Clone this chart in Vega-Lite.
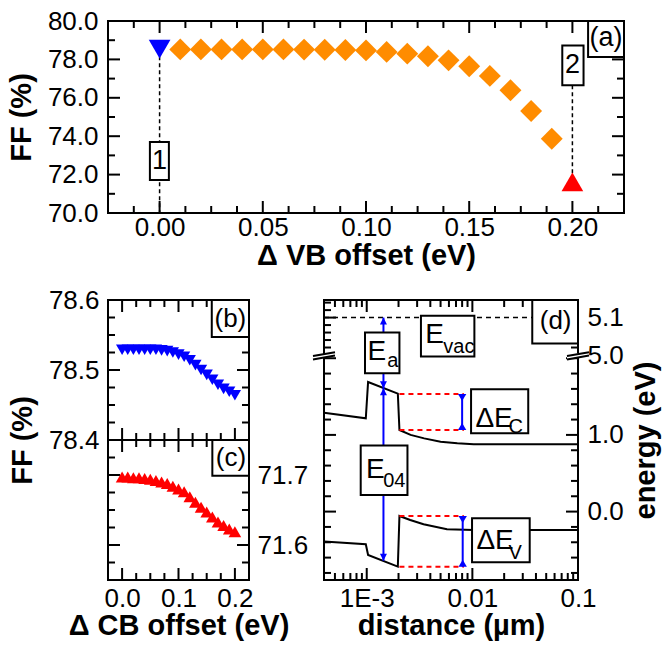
{
  "$schema": "https://vega.github.io/schema/vega-lite/v6.json",
  "background": "white",
  "padding": {"left": 6, "top": 7, "right": 0, "bottom": 0},
  "autosize": {"type": "pad"},
  "config": {
    "view": {"stroke": "black", "strokeWidth": 2},
    "axis": {"labelFont": "Liberation Sans", "labelFontSize": 26, "labelColor": "black", "titleFont": "Liberation Sans", "titleFontSize": 29, "titleFontWeight": "bold", "titleColor": "black", "ticks": false, "domain": false, "grid": false, "labelFlush": false, "labelOverlap": false},
    "text": {"font": "Liberation Sans", "color": "black"}
  },
  "datasets": {
    "vbOffset": [
      {"offset": 0.01, "ff": 78.52}, {"offset": 0.02, "ff": 78.52}, {"offset": 0.03, "ff": 78.52}, {"offset": 0.04, "ff": 78.52},
      {"offset": 0.05, "ff": 78.52}, {"offset": 0.06, "ff": 78.52}, {"offset": 0.07, "ff": 78.51}, {"offset": 0.08, "ff": 78.5},
      {"offset": 0.09, "ff": 78.49}, {"offset": 0.1, "ff": 78.47}, {"offset": 0.11, "ff": 78.39}, {"offset": 0.12, "ff": 78.3},
      {"offset": 0.13, "ff": 78.16}, {"offset": 0.14, "ff": 77.95}, {"offset": 0.15, "ff": 77.64}, {"offset": 0.16, "ff": 77.14},
      {"offset": 0.17, "ff": 76.39}, {"offset": 0.18, "ff": 75.31}, {"offset": 0.19, "ff": 73.87}
    ],
    "cbB": [
      {"offset": 0.0, "ff": 78.529}, {"offset": 0.01, "ff": 78.529}, {"offset": 0.02, "ff": 78.529}, {"offset": 0.03, "ff": 78.529},
      {"offset": 0.04, "ff": 78.529}, {"offset": 0.05, "ff": 78.529}, {"offset": 0.06, "ff": 78.529}, {"offset": 0.07, "ff": 78.528},
      {"offset": 0.08, "ff": 78.527}, {"offset": 0.09, "ff": 78.525}, {"offset": 0.1, "ff": 78.522}, {"offset": 0.11, "ff": 78.519},
      {"offset": 0.12, "ff": 78.514}, {"offset": 0.13, "ff": 78.507}, {"offset": 0.14, "ff": 78.5}, {"offset": 0.15, "ff": 78.493},
      {"offset": 0.16, "ff": 78.486}, {"offset": 0.17, "ff": 78.479}, {"offset": 0.18, "ff": 78.473}, {"offset": 0.19, "ff": 78.469},
      {"offset": 0.2, "ff": 78.464}
    ],
    "cbC": [
      {"offset": 0.0, "ff": 71.697}, {"offset": 0.01, "ff": 71.697}, {"offset": 0.02, "ff": 71.696}, {"offset": 0.03, "ff": 71.696},
      {"offset": 0.04, "ff": 71.695}, {"offset": 0.05, "ff": 71.694}, {"offset": 0.06, "ff": 71.692}, {"offset": 0.07, "ff": 71.69},
      {"offset": 0.08, "ff": 71.688}, {"offset": 0.09, "ff": 71.684}, {"offset": 0.1, "ff": 71.68}, {"offset": 0.11, "ff": 71.676},
      {"offset": 0.12, "ff": 71.669}, {"offset": 0.13, "ff": 71.661}, {"offset": 0.14, "ff": 71.654}, {"offset": 0.15, "ff": 71.647},
      {"offset": 0.16, "ff": 71.64}, {"offset": 0.17, "ff": 71.633}, {"offset": 0.18, "ff": 71.628}, {"offset": 0.19, "ff": 71.623},
      {"offset": 0.2, "ff": 71.619}
    ],
    "bands": [
      {"band": "CB", "distance": 0.000394, "energy": 1.29}, {"band": "CB", "distance": 0.00098, "energy": 1.216},
      {"band": "CB", "distance": 0.00103, "energy": 1.69}, {"band": "CB", "distance": 0.00197, "energy": 1.538},
      {"band": "CB", "distance": 0.00204, "energy": 1.064}, {"band": "CB", "distance": 0.0026, "energy": 1.0},
      {"band": "CB", "distance": 0.0035, "energy": 0.955}, {"band": "CB", "distance": 0.005, "energy": 0.912},
      {"band": "CB", "distance": 0.0072, "energy": 0.89}, {"band": "CB", "distance": 0.0103, "energy": 0.878},
      {"band": "CB", "distance": 0.1, "energy": 0.877},
      {"band": "VB", "distance": 0.000394, "energy": -0.391}, {"band": "VB", "distance": 0.00098, "energy": -0.426},
      {"band": "VB", "distance": 0.00103, "energy": -0.566}, {"band": "VB", "distance": 0.00197, "energy": -0.717},
      {"band": "VB", "distance": 0.00204, "energy": -0.057}, {"band": "VB", "distance": 0.00258, "energy": -0.109},
      {"band": "VB", "distance": 0.00345, "energy": -0.166}, {"band": "VB", "distance": 0.00575, "energy": -0.231},
      {"band": "VB", "distance": 0.0103, "energy": -0.24}, {"band": "VB", "distance": 0.1, "energy": -0.24}
    ],
    "ticksAx": [
      {"v": 0, "kind": "major"}, {"v": 0.05, "kind": "major"}, {"v": 0.1, "kind": "major"}, {"v": 0.15, "kind": "major"}, {"v": 0.2, "kind": "major"},
      {"v": -0.0125, "kind": "minor"}, {"v": 0.0125, "kind": "minor"}, {"v": 0.025, "kind": "minor"}, {"v": 0.0375, "kind": "minor"},
      {"v": 0.0625, "kind": "minor"}, {"v": 0.075, "kind": "minor"}, {"v": 0.0875, "kind": "minor"}, {"v": 0.1125, "kind": "minor"},
      {"v": 0.125, "kind": "minor"}, {"v": 0.1375, "kind": "minor"}, {"v": 0.1625, "kind": "minor"}, {"v": 0.175, "kind": "minor"},
      {"v": 0.1875, "kind": "minor"}, {"v": 0.2125, "kind": "minor"}
    ],
    "ticksAy": [
      {"v": 72, "kind": "major"}, {"v": 74, "kind": "major"}, {"v": 76, "kind": "major"}, {"v": 78, "kind": "major"},
      {"v": 71, "kind": "minor"}, {"v": 73, "kind": "minor"}, {"v": 75, "kind": "minor"}, {"v": 77, "kind": "minor"}, {"v": 79, "kind": "minor"}
    ],
    "ticksBCx": [
      {"v": 0, "kind": "major"}, {"v": 0.1, "kind": "major"}, {"v": 0.2, "kind": "major"},
      {"v": 0.025, "kind": "minor"}, {"v": 0.05, "kind": "minor"}, {"v": 0.075, "kind": "minor"},
      {"v": 0.125, "kind": "minor"}, {"v": 0.15, "kind": "minor"}, {"v": 0.175, "kind": "minor"}
    ],
    "ticksBy": [
      {"v": 78.5, "kind": "major"},
      {"v": 78.425, "kind": "minor"}, {"v": 78.45, "kind": "minor"}, {"v": 78.475, "kind": "minor"},
      {"v": 78.525, "kind": "minor"}, {"v": 78.55, "kind": "minor"}, {"v": 78.575, "kind": "minor"}
    ],
    "ticksCy": [
      {"v": 71.6, "kind": "major"}, {"v": 71.7, "kind": "major"},
      {"v": 71.575, "kind": "minor"}, {"v": 71.625, "kind": "minor"}, {"v": 71.65, "kind": "minor"},
      {"v": 71.675, "kind": "minor"}, {"v": 71.725, "kind": "minor"}
    ],
    "ticksDx": [
      {"v": 0.001, "kind": "major"}, {"v": 0.01, "kind": "major"},
      {"v": 0.0005, "kind": "minor"}, {"v": 0.0006, "kind": "minor"}, {"v": 0.0007, "kind": "minor"}, {"v": 0.0008, "kind": "minor"}, {"v": 0.0009, "kind": "minor"},
      {"v": 0.002, "kind": "minor"}, {"v": 0.003, "kind": "minor"}, {"v": 0.004, "kind": "minor"}, {"v": 0.005, "kind": "minor"},
      {"v": 0.006, "kind": "minor"}, {"v": 0.007, "kind": "minor"}, {"v": 0.008, "kind": "minor"}, {"v": 0.009, "kind": "minor"},
      {"v": 0.02, "kind": "minor"}, {"v": 0.03, "kind": "minor"}, {"v": 0.04, "kind": "minor"}, {"v": 0.05, "kind": "minor"},
      {"v": 0.06, "kind": "minor"}, {"v": 0.07, "kind": "minor"}, {"v": 0.08, "kind": "minor"}, {"v": 0.09, "kind": "minor"}
    ],
    "ticksD1y": [
      {"v": 5.1, "kind": "major"},
      {"v": 5.02, "kind": "minor"}, {"v": 5.04, "kind": "minor"}, {"v": 5.06, "kind": "minor"}, {"v": 5.08, "kind": "minor"},
      {"v": 5.12, "kind": "minor"}, {"v": 5.14, "kind": "minor"}
    ],
    "ticksD2y": [
      {"v": 0, "kind": "major"}, {"v": 1, "kind": "major"}, {"v": 2, "kind": "major"},
      {"v": -0.8, "kind": "minor"}, {"v": -0.6, "kind": "minor"}, {"v": -0.4, "kind": "minor"}, {"v": -0.2, "kind": "minor"},
      {"v": 0.2, "kind": "minor"}, {"v": 0.4, "kind": "minor"}, {"v": 0.6, "kind": "minor"}, {"v": 0.8, "kind": "minor"},
      {"v": 1.2, "kind": "minor"}, {"v": 1.4, "kind": "minor"}, {"v": 1.6, "kind": "minor"}, {"v": 1.8, "kind": "minor"}
    ]
  },
  "vconcat": [
    {
      "width": 516, "height": 192,
      "encoding": {
        "x": {"type": "quantitative", "scale": {"domain": [-0.025, 0.225], "nice": false, "zero": false}},
        "y": {"type": "quantitative", "scale": {"domain": [70, 80], "nice": false, "zero": false}}
      },
      "layer": [
        {
          "data": {"name": "ticksAx"},
          "mark": {"type": "point", "shape": "M0,0L0,-1", "filled": false, "stroke": "black", "strokeWidth": 2, "opacity": 1},
          "encoding": {"x": {"field": "v", "type": "quantitative", "axis": null}, "y": {"datum": 70, "type": "quantitative", "axis": null},
            "size": {"field": "kind", "type": "ordinal", "scale": {"domain": ["major", "minor"], "range": [576, 196]}, "legend": null}}
        },
        {
          "data": {"name": "ticksAx"},
          "mark": {"type": "point", "shape": "M0,0L0,1", "filled": false, "stroke": "black", "strokeWidth": 2, "opacity": 1},
          "encoding": {"x": {"field": "v", "type": "quantitative", "axis": null}, "y": {"datum": 80, "type": "quantitative", "axis": null},
            "size": {"field": "kind", "type": "ordinal", "scale": {"domain": ["major", "minor"], "range": [576, 196]}, "legend": null}}
        },
        {
          "data": {"name": "ticksAy"},
          "mark": {"type": "point", "shape": "M0,0L1,0", "filled": false, "stroke": "black", "strokeWidth": 2, "opacity": 1},
          "encoding": {"x": {"datum": -0.025, "type": "quantitative", "axis": null}, "y": {"field": "v", "type": "quantitative", "axis": null},
            "size": {"field": "kind", "type": "ordinal", "scale": {"domain": ["major", "minor"], "range": [576, 196]}, "legend": null}}
        },
        {
          "data": {"name": "ticksAy"},
          "mark": {"type": "point", "shape": "M0,0L-1,0", "filled": false, "stroke": "black", "strokeWidth": 2, "opacity": 1},
          "encoding": {"x": {"datum": 0.225, "type": "quantitative", "axis": null}, "y": {"field": "v", "type": "quantitative", "axis": null},
            "size": {"field": "kind", "type": "ordinal", "scale": {"domain": ["major", "minor"], "range": [576, 196]}, "legend": null}}
        },
        {
          "data": {"values": [{"x": 0, "y": 78.53, "y2": 70}, {"x": 0.2, "y": 76.65, "y2": 71.62}]},
          "mark": {"type": "rule", "color": "black", "strokeWidth": 1.5, "strokeDash": [4, 3]},
          "encoding": {
            "x": {"field": "x", "type": "quantitative",
              "axis": {"orient": "bottom", "title": "Δ VB offset (eV)", "values": [0, 0.05, 0.1, 0.15, 0.2], "format": ".2f", "labelPadding": 1, "titlePadding": 1}},
            "y": {"field": "y", "type": "quantitative",
              "axis": {"orient": "left", "title": "FF (%)", "values": [70, 72, 74, 76, 78, 80], "format": ".1f", "labelPadding": 10, "titlePadding": 11}},
            "y2": {"field": "y2"}
          }
        },
        {
          "data": {"name": "vbOffset"},
          "mark": {"type": "point", "shape": "diamond", "filled": true, "color": "#ff8c00", "size": 480, "opacity": 1},
          "encoding": {"x": {"field": "offset", "type": "quantitative", "axis": null}, "y": {"field": "ff", "type": "quantitative", "axis": null}}
        },
        {
          "data": {"values": [{"x": 0, "y": 78.53}]},
          "mark": {"type": "point", "shape": "triangle-down", "filled": true, "color": "#0000ff", "size": 470, "opacity": 1},
          "encoding": {"x": {"field": "x", "type": "quantitative", "axis": null}, "y": {"field": "y", "type": "quantitative", "axis": null}}
        },
        {
          "data": {"values": [{"x": 0.2, "y": 71.62}]},
          "mark": {"type": "point", "shape": "triangle-up", "filled": true, "color": "#ff0000", "size": 470, "opacity": 1},
          "encoding": {"x": {"field": "x", "type": "quantitative", "axis": null}, "y": {"field": "y", "type": "quantitative", "axis": null}}
        },
        {
          "data": {"values": [{"x": -0.0047, "x2": 0.0045, "y": 73.7, "y2": 71.72}, {"x": 0.1951, "x2": 0.2054, "y": 78.73, "y2": 76.65}, {"x": 0.2076, "x2": 0.225, "y": 80.0, "y2": 78.125}]},
          "mark": {"type": "rect", "fill": "white", "stroke": "black", "strokeWidth": 2},
          "encoding": {"x": {"field": "x", "type": "quantitative", "axis": null}, "x2": {"field": "x2"}, "y": {"field": "y", "type": "quantitative", "axis": null}, "y2": {"field": "y2"}}
        },
        {
          "data": {"values": [{"x": 0, "y": 72.71, "t": "1"}, {"x": 0.2, "y": 77.69, "t": "2"}, {"x": 0.2163, "y": 79.09, "t": "(a)"}]},
          "mark": {"type": "text", "fontSize": 27, "align": "center", "baseline": "middle"},
          "encoding": {"x": {"field": "x", "type": "quantitative", "axis": null}, "y": {"field": "y", "type": "quantitative", "axis": null}, "text": {"field": "t"}}
        }
      ],
      "resolve": {"axis": {"x": "independent", "y": "independent"}}
    },
    {
      "hconcat": [
        {
          "vconcat": [
            {
              "width": 141, "height": 140,
              "encoding": {
                "x": {"type": "quantitative", "scale": {"domain": [-0.025, 0.225], "nice": false, "zero": false}},
                "y": {"type": "quantitative", "scale": {"domain": [78.4, 78.6], "nice": false, "zero": false}}
              },
              "layer": [
                {
                  "data": {"name": "ticksBCx"},
                  "mark": {"type": "point", "shape": "M0,0L0,-1", "filled": false, "stroke": "black", "strokeWidth": 2, "opacity": 1},
                  "encoding": {"x": {"field": "v", "type": "quantitative", "axis": null}, "y": {"datum": 78.4, "type": "quantitative", "axis": null},
                    "size": {"field": "kind", "type": "ordinal", "scale": {"domain": ["major", "minor"], "range": [576, 196]}, "legend": null}}
                },
                {
                  "data": {"name": "ticksBCx"},
                  "mark": {"type": "point", "shape": "M0,0L0,1", "filled": false, "stroke": "black", "strokeWidth": 2, "opacity": 1},
                  "encoding": {"x": {"field": "v", "type": "quantitative", "axis": null}, "y": {"datum": 78.6, "type": "quantitative", "axis": null},
                    "size": {"field": "kind", "type": "ordinal", "scale": {"domain": ["major", "minor"], "range": [576, 196]}, "legend": null}}
                },
                {
                  "data": {"name": "ticksBy"},
                  "mark": {"type": "point", "shape": "M0,0L1,0", "filled": false, "stroke": "black", "strokeWidth": 2, "opacity": 1},
                  "encoding": {"x": {"datum": -0.025, "type": "quantitative", "axis": null}, "y": {"field": "v", "type": "quantitative", "axis": null},
                    "size": {"field": "kind", "type": "ordinal", "scale": {"domain": ["major", "minor"], "range": [576, 196]}, "legend": null}}
                },
                {
                  "data": {"name": "ticksBy"},
                  "mark": {"type": "point", "shape": "M0,0L-1,0", "filled": false, "stroke": "black", "strokeWidth": 2, "opacity": 1},
                  "encoding": {"x": {"datum": 0.225, "type": "quantitative", "axis": null}, "y": {"field": "v", "type": "quantitative", "axis": null},
                    "size": {"field": "kind", "type": "ordinal", "scale": {"domain": ["major", "minor"], "range": [576, 196]}, "legend": null}}
                },
                {
                  "data": {"name": "cbB"},
                  "mark": {"type": "point", "shape": "triangle-down", "filled": true, "color": "#0000ff", "size": 150, "opacity": 1},
                  "encoding": {
                    "x": {"field": "offset", "type": "quantitative", "axis": null},
                    "y": {"field": "ff", "type": "quantitative",
                      "axis": {"orient": "left", "title": "FF (%)", "titleY": 140, "values": [78.4, 78.5, 78.6], "format": ".1f", "labelPadding": 9, "titlePadding": 11}}
                  }
                },
                {
                  "data": {"values": [{"x": 0.159, "x2": 0.225, "y": 78.6, "y2": 78.547}]},
                  "mark": {"type": "rect", "fill": "white", "stroke": "black", "strokeWidth": 2},
                  "encoding": {"x": {"field": "x", "type": "quantitative", "axis": null}, "x2": {"field": "x2"}, "y": {"field": "y", "type": "quantitative", "axis": null}, "y2": {"field": "y2"}}
                },
                {
                  "data": {"values": [{"x": 0.192, "y": 78.573, "t": "(b)"}]},
                  "mark": {"type": "text", "fontSize": 26, "align": "center", "baseline": "middle"},
                  "encoding": {"x": {"field": "x", "type": "quantitative", "axis": null}, "y": {"field": "y", "type": "quantitative", "axis": null}, "text": {"field": "t"}}
                }
              ],
              "resolve": {"axis": {"x": "independent", "y": "independent"}}
            },
            {
              "width": 141, "height": 140,
              "encoding": {
                "x": {"type": "quantitative", "scale": {"domain": [-0.025, 0.225], "nice": false, "zero": false}},
                "y": {"type": "quantitative", "scale": {"domain": [71.55, 71.75], "nice": false, "zero": false}}
              },
              "layer": [
                {
                  "data": {"name": "ticksBCx"},
                  "mark": {"type": "point", "shape": "M0,0L0,-1", "filled": false, "stroke": "black", "strokeWidth": 2, "opacity": 1},
                  "encoding": {"x": {"field": "v", "type": "quantitative", "axis": null}, "y": {"datum": 71.55, "type": "quantitative", "axis": null},
                    "size": {"field": "kind", "type": "ordinal", "scale": {"domain": ["major", "minor"], "range": [576, 196]}, "legend": null}}
                },
                {
                  "data": {"name": "ticksBCx"},
                  "mark": {"type": "point", "shape": "M0,0L0,1", "filled": false, "stroke": "black", "strokeWidth": 2, "opacity": 1},
                  "encoding": {"x": {"field": "v", "type": "quantitative", "axis": null}, "y": {"datum": 71.75, "type": "quantitative", "axis": null},
                    "size": {"field": "kind", "type": "ordinal", "scale": {"domain": ["major", "minor"], "range": [576, 196]}, "legend": null}}
                },
                {
                  "data": {"name": "ticksCy"},
                  "mark": {"type": "point", "shape": "M0,0L1,0", "filled": false, "stroke": "black", "strokeWidth": 2, "opacity": 1},
                  "encoding": {"x": {"datum": -0.025, "type": "quantitative", "axis": null}, "y": {"field": "v", "type": "quantitative", "axis": null},
                    "size": {"field": "kind", "type": "ordinal", "scale": {"domain": ["major", "minor"], "range": [576, 196]}, "legend": null}}
                },
                {
                  "data": {"name": "ticksCy"},
                  "mark": {"type": "point", "shape": "M0,0L-1,0", "filled": false, "stroke": "black", "strokeWidth": 2, "opacity": 1},
                  "encoding": {"x": {"datum": 0.225, "type": "quantitative", "axis": null}, "y": {"field": "v", "type": "quantitative", "axis": null},
                    "size": {"field": "kind", "type": "ordinal", "scale": {"domain": ["major", "minor"], "range": [576, 196]}, "legend": null}}
                },
                {
                  "data": {"name": "cbC"},
                  "mark": {"type": "point", "shape": "triangle-up", "filled": true, "color": "#ff0000", "size": 160, "opacity": 1},
                  "encoding": {
                    "x": {"field": "offset", "type": "quantitative",
                      "axis": {"orient": "bottom", "title": "Δ CB offset (eV)", "values": [0, 0.1, 0.2], "format": ".1f", "labelPadding": 5, "titlePadding": 0}},
                    "y": {"field": "ff", "type": "quantitative",
                      "axis": {"orient": "right", "title": null, "values": [71.6, 71.7], "format": ".1f", "labelPadding": 8}}
                  }
                },
                {
                  "data": {"values": [{"x": 0.16, "x2": 0.225, "y": 71.75, "y2": 71.699}]},
                  "mark": {"type": "rect", "fill": "white", "stroke": "black", "strokeWidth": 2},
                  "encoding": {"x": {"field": "x", "type": "quantitative", "axis": null}, "x2": {"field": "x2"}, "y": {"field": "y", "type": "quantitative", "axis": null}, "y2": {"field": "y2"}}
                },
                {
                  "data": {"values": [{"x": 0.193, "y": 71.724, "t": "(c)"}]},
                  "mark": {"type": "text", "fontSize": 26, "align": "center", "baseline": "middle"},
                  "encoding": {"x": {"field": "x", "type": "quantitative", "axis": null}, "y": {"field": "y", "type": "quantitative", "axis": null}, "text": {"field": "t"}}
                }
              ],
              "resolve": {"axis": {"x": "independent", "y": "independent"}}
            }
          ],
          "spacing": 0,
          "bounds": "flush"
        },
        {
          "vconcat": [
            {
              "width": 254, "height": 55,
              "encoding": {
                "x": {"type": "quantitative", "scale": {"type": "log", "domain": [0.000394, 0.1], "nice": false}},
                "y": {"type": "quantitative", "scale": {"domain": [5.0, 5.147], "nice": false, "zero": false}}
              },
              "layer": [
                {
                  "data": {"name": "ticksDx"},
                  "mark": {"type": "point", "shape": "M0,0L0,1", "filled": false, "stroke": "black", "strokeWidth": 2, "opacity": 1},
                  "encoding": {"x": {"field": "v", "type": "quantitative", "axis": null}, "y": {"datum": 5.147, "type": "quantitative", "axis": null},
                    "size": {"field": "kind", "type": "ordinal", "scale": {"domain": ["major", "minor"], "range": [576, 196]}, "legend": null}}
                },
                {
                  "data": {"name": "ticksD1y"},
                  "mark": {"type": "point", "shape": "M0,0L1,0", "filled": false, "stroke": "black", "strokeWidth": 2, "opacity": 1},
                  "encoding": {"x": {"datum": 0.000394, "type": "quantitative", "axis": null}, "y": {"field": "v", "type": "quantitative", "axis": null},
                    "size": {"field": "kind", "type": "ordinal", "scale": {"domain": ["major", "minor"], "range": [576, 196]}, "legend": null}}
                },
                {
                  "data": {"name": "ticksD1y"},
                  "mark": {"type": "point", "shape": "M0,0L-1,0", "filled": false, "stroke": "black", "strokeWidth": 2, "opacity": 1},
                  "encoding": {"x": {"datum": 0.1, "type": "quantitative", "axis": null}, "y": {"field": "v", "type": "quantitative", "axis": null},
                    "size": {"field": "kind", "type": "ordinal", "scale": {"domain": ["major", "minor"], "range": [576, 196]}, "legend": null}}
                },
                {
                  "data": {"values": [{"x": 0.000394, "x2": 0.0369, "y": 5.1}]},
                  "mark": {"type": "rule", "color": "black", "strokeWidth": 1.5, "strokeDash": [5, 4]},
                  "encoding": {"x": {"field": "x", "type": "quantitative", "axis": null}, "x2": {"field": "x2"}, "y": {"field": "y", "type": "quantitative", "axis": null}}
                },
                {
                  "data": {"values": [{"x": 0.0369, "x2": 0.1, "y": 5.147, "y2": 5.031}]},
                  "mark": {"type": "rect", "fill": "white", "stroke": "black", "strokeWidth": 2},
                  "encoding": {"x": {"field": "x", "type": "quantitative", "axis": null}, "x2": {"field": "x2"}, "y": {"field": "y", "type": "quantitative", "axis": null}, "y2": {"field": "y2"}}
                },
                {
                  "data": {"values": [{"x": 0.00144, "y": 5.1, "y2": 5.0}]},
                  "mark": {"type": "rule", "color": "#0000ff", "strokeWidth": 2},
                  "encoding": {
                    "x": {"field": "x", "type": "quantitative", "axis": null},
                    "y": {"field": "y", "type": "quantitative",
                      "axis": {"orient": "right", "title": null, "values": [5.0, 5.1], "format": ".1f", "labelPadding": 9}},
                    "y2": {"field": "y2"}
                  }
                },
                {
                  "data": {"values": [{"x": 0.00144, "y": 5.1}]},
                  "mark": {"type": "point", "shape": "M0,0L-0.5,1L0.5,1Z", "filled": true, "color": "#0000ff", "size": 196, "opacity": 1},
                  "encoding": {"x": {"field": "x", "type": "quantitative", "axis": null}, "y": {"field": "y", "type": "quantitative", "axis": null}}
                },
                {
                  "data": {"values": [{"x": 0.0614, "y": 5.09, "t": "(d)"}]},
                  "mark": {"type": "text", "fontSize": 26, "align": "center", "baseline": "middle"},
                  "encoding": {"x": {"field": "x", "type": "quantitative", "axis": null}, "y": {"field": "y", "type": "quantitative", "axis": null}, "text": {"field": "t"}}
                }
              ],
              "resolve": {"axis": {"x": "independent", "y": "independent"}}
            },
            {
              "width": 254, "height": 225,
              "encoding": {
                "x": {"type": "quantitative", "scale": {"type": "log", "domain": [0.000394, 0.1], "nice": false}},
                "y": {"type": "quantitative", "scale": {"domain": [-0.892, 2.042], "nice": false, "zero": false}}
              },
              "layer": [
                {
                  "data": {"values": [{"x": 0.000394, "x2": 0.1, "y": 2.042}]},
                  "mark": {"type": "rule", "color": "white", "strokeWidth": 3},
                  "encoding": {"x": {"field": "x", "type": "quantitative", "axis": null}, "x2": {"field": "x2"}, "y": {"field": "y", "type": "quantitative", "axis": null}}
                },
                {
                  "data": {"name": "ticksDx"},
                  "mark": {"type": "point", "shape": "M0,0L0,-1", "filled": false, "stroke": "black", "strokeWidth": 2, "opacity": 1},
                  "encoding": {"x": {"field": "v", "type": "quantitative", "axis": null}, "y": {"datum": -0.892, "type": "quantitative", "axis": null},
                    "size": {"field": "kind", "type": "ordinal", "scale": {"domain": ["major", "minor"], "range": [576, 196]}, "legend": null}}
                },
                {
                  "data": {"name": "ticksD2y"},
                  "mark": {"type": "point", "shape": "M0,0L1,0", "filled": false, "stroke": "black", "strokeWidth": 2, "opacity": 1},
                  "encoding": {"x": {"datum": 0.000394, "type": "quantitative", "axis": null}, "y": {"field": "v", "type": "quantitative", "axis": null},
                    "size": {"field": "kind", "type": "ordinal", "scale": {"domain": ["major", "minor"], "range": [576, 196]}, "legend": null}}
                },
                {
                  "data": {"name": "ticksD2y"},
                  "mark": {"type": "point", "shape": "M0,0L-1,0", "filled": false, "stroke": "black", "strokeWidth": 2, "opacity": 1},
                  "encoding": {"x": {"datum": 0.1, "type": "quantitative", "axis": null}, "y": {"field": "v", "type": "quantitative", "axis": null},
                    "size": {"field": "kind", "type": "ordinal", "scale": {"domain": ["major", "minor"], "range": [576, 196]}, "legend": null}}
                },
                {
                  "data": {"name": "bands"},
                  "mark": {"type": "line", "color": "black", "strokeWidth": 2},
                  "encoding": {
                    "x": {"field": "distance", "type": "quantitative",
                      "axis": {"orient": "bottom", "title": "distance (µm)", "values": [0.001, 0.01, 0.1],
                        "labelExpr": "datum.value < 0.005 ? '1E-3' : datum.value < 0.05 ? '0.01' : '0.1'", "labelPadding": 5, "titlePadding": 0}},
                    "y": {"field": "energy", "type": "quantitative",
                      "axis": {"orient": "right", "title": "energy (eV)", "titleAngle": 270, "titleBaseline": "top", "titleY": 85, "values": [0, 1],
                        "format": ".1f", "labelPadding": 9, "titlePadding": 8}},
                    "detail": {"field": "band", "type": "nominal"}
                  }
                },
                {
                  "data": {"values": [{"x": 0.00204, "x2": 0.0083, "y": 1.534}, {"x": 0.00204, "x2": 0.0083, "y": 1.064}, {"x": 0.00204, "x2": 0.0083, "y": -0.057}, {"x": 0.00204, "x2": 0.0083, "y": -0.72}]},
                  "mark": {"type": "rule", "color": "#ff0000", "strokeWidth": 2, "strokeDash": [5, 4]},
                  "encoding": {"x": {"field": "x", "type": "quantitative", "axis": null}, "x2": {"field": "x2"}, "y": {"field": "y", "type": "quantitative", "axis": null}}
                },
                {
                  "data": {"values": [{"x": 0.00144, "y": 2.042, "y2": 1.61}, {"x": 0.00144, "y": 1.61, "y2": -0.64}, {"x": 0.008, "y": 1.534, "y2": 1.064}, {"x": 0.0081, "y": -0.057, "y2": -0.72}]},
                  "mark": {"type": "rule", "color": "#0000ff", "strokeWidth": 2},
                  "encoding": {"x": {"field": "x", "type": "quantitative", "axis": null}, "y": {"field": "y", "type": "quantitative", "axis": null}, "y2": {"field": "y2"}}
                },
                {
                  "data": {"values": [
                    {"x": 0.00144, "y": 1.61, "head": "tipDown"}, {"x": 0.00144, "y": 1.61, "head": "tipUp"}, {"x": 0.00144, "y": -0.64, "head": "tipDown"},
                    {"x": 0.008, "y": 1.534, "head": "flatTop"}, {"x": 0.008, "y": 1.064, "head": "flatBottom"},
                    {"x": 0.0081, "y": -0.057, "head": "flatTop"}, {"x": 0.0081, "y": -0.72, "head": "flatBottom"}]},
                  "mark": {"type": "point", "filled": true, "color": "#0000ff", "size": 196, "opacity": 1},
                  "encoding": {
                    "x": {"field": "x", "type": "quantitative", "axis": null},
                    "y": {"field": "y", "type": "quantitative", "axis": null},
                    "shape": {"field": "head", "type": "nominal", "legend": null,
                      "scale": {"domain": ["tipUp", "tipDown", "flatTop", "flatBottom"], "range": ["M0,0L-0.5,1L0.5,1Z", "M0,0L-0.5,-1L0.5,-1Z", "M-0.6,0L0.6,0L0,1Z", "M-0.6,0L0.6,0L0,-1Z"]}}
                  }
                },
                {
                  "data": {"values": [
                    {"x": 0.000963, "x2": 0.00204, "y": 2.334, "y2": 1.803},
                    {"x": 0.000877, "x2": 0.00243, "y": 0.861, "y2": 0.216},
                    {"x": 0.00972, "x2": 0.0338, "y": 1.595, "y2": 1.021},
                    {"x": 0.00993, "x2": 0.0349, "y": -0.087, "y2": -0.661},
                    {"x": 0.00326, "x2": 0.01045, "y": 2.555, "y2": 2.021}]},
                  "mark": {"type": "rect", "fill": "white", "stroke": "black", "strokeWidth": 2},
                  "encoding": {"x": {"field": "x", "type": "quantitative", "axis": null}, "x2": {"field": "x2"}, "y": {"field": "y", "type": "quantitative", "axis": null}, "y2": {"field": "y2"}}
                },
                {
                  "data": {"values": [
                    {"x": 0.001018, "y": 1.977, "t": "E"}, {"x": 0.000985, "y": 0.434, "t": "E"},
                    {"x": 0.01068, "y": 1.108, "t": "ΔE"}, {"x": 0.01092, "y": -0.488, "t": "ΔE"},
                    {"x": 0.00358, "y": 2.203, "t": "E"}]},
                  "mark": {"type": "text", "fontSize": 28, "align": "left", "baseline": "alphabetic"},
                  "encoding": {"x": {"field": "x", "type": "quantitative", "axis": null}, "y": {"field": "y", "type": "quantitative", "axis": null}, "text": {"field": "t"}}
                },
                {
                  "data": {"values": [
                    {"x": 0.00156, "y": 1.881, "t": "a"}, {"x": 0.00143, "y": 0.326, "t": "04"},
                    {"x": 0.02198, "y": 1.03, "t": "C"}, {"x": 0.02198, "y": -0.618, "t": "V"},
                    {"x": 0.00531, "y": 2.073, "t": "vac"}]},
                  "mark": {"type": "text", "fontSize": 20, "align": "left", "baseline": "alphabetic"},
                  "encoding": {"x": {"field": "x", "type": "quantitative", "axis": null}, "y": {"field": "y", "type": "quantitative", "axis": null}, "text": {"field": "t"}}
                },
                {
                  "data": {"values": [{"x": 0.000394, "y": 2.042}, {"x": 0.1, "y": 2.042}]},
                  "mark": {"type": "point", "shape": "M-1,0.1L1,-0.25L1,0.05L-1,0.4Z", "filled": true, "fill": "white", "strokeWidth": 0, "size": 484, "opacity": 1},
                  "encoding": {"x": {"field": "x", "type": "quantitative", "axis": null}, "y": {"field": "y", "type": "quantitative", "axis": null}}
                },
                {
                  "data": {"values": [{"x": 0.000394, "y": 2.042}, {"x": 0.1, "y": 2.042}]},
                  "mark": {"type": "point", "shape": "M-1,0.1L1,-0.25M-1,0.4L1,0.05", "filled": false, "stroke": "black", "strokeWidth": 2, "size": 484, "opacity": 1},
                  "encoding": {"x": {"field": "x", "type": "quantitative", "axis": null}, "y": {"field": "y", "type": "quantitative", "axis": null}}
                }
              ],
              "resolve": {"axis": {"x": "independent", "y": "independent"}}
            }
          ],
          "spacing": 0,
          "bounds": "flush"
        }
      ],
      "spacing": -1
    }
  ],
  "spacing": 15
}
